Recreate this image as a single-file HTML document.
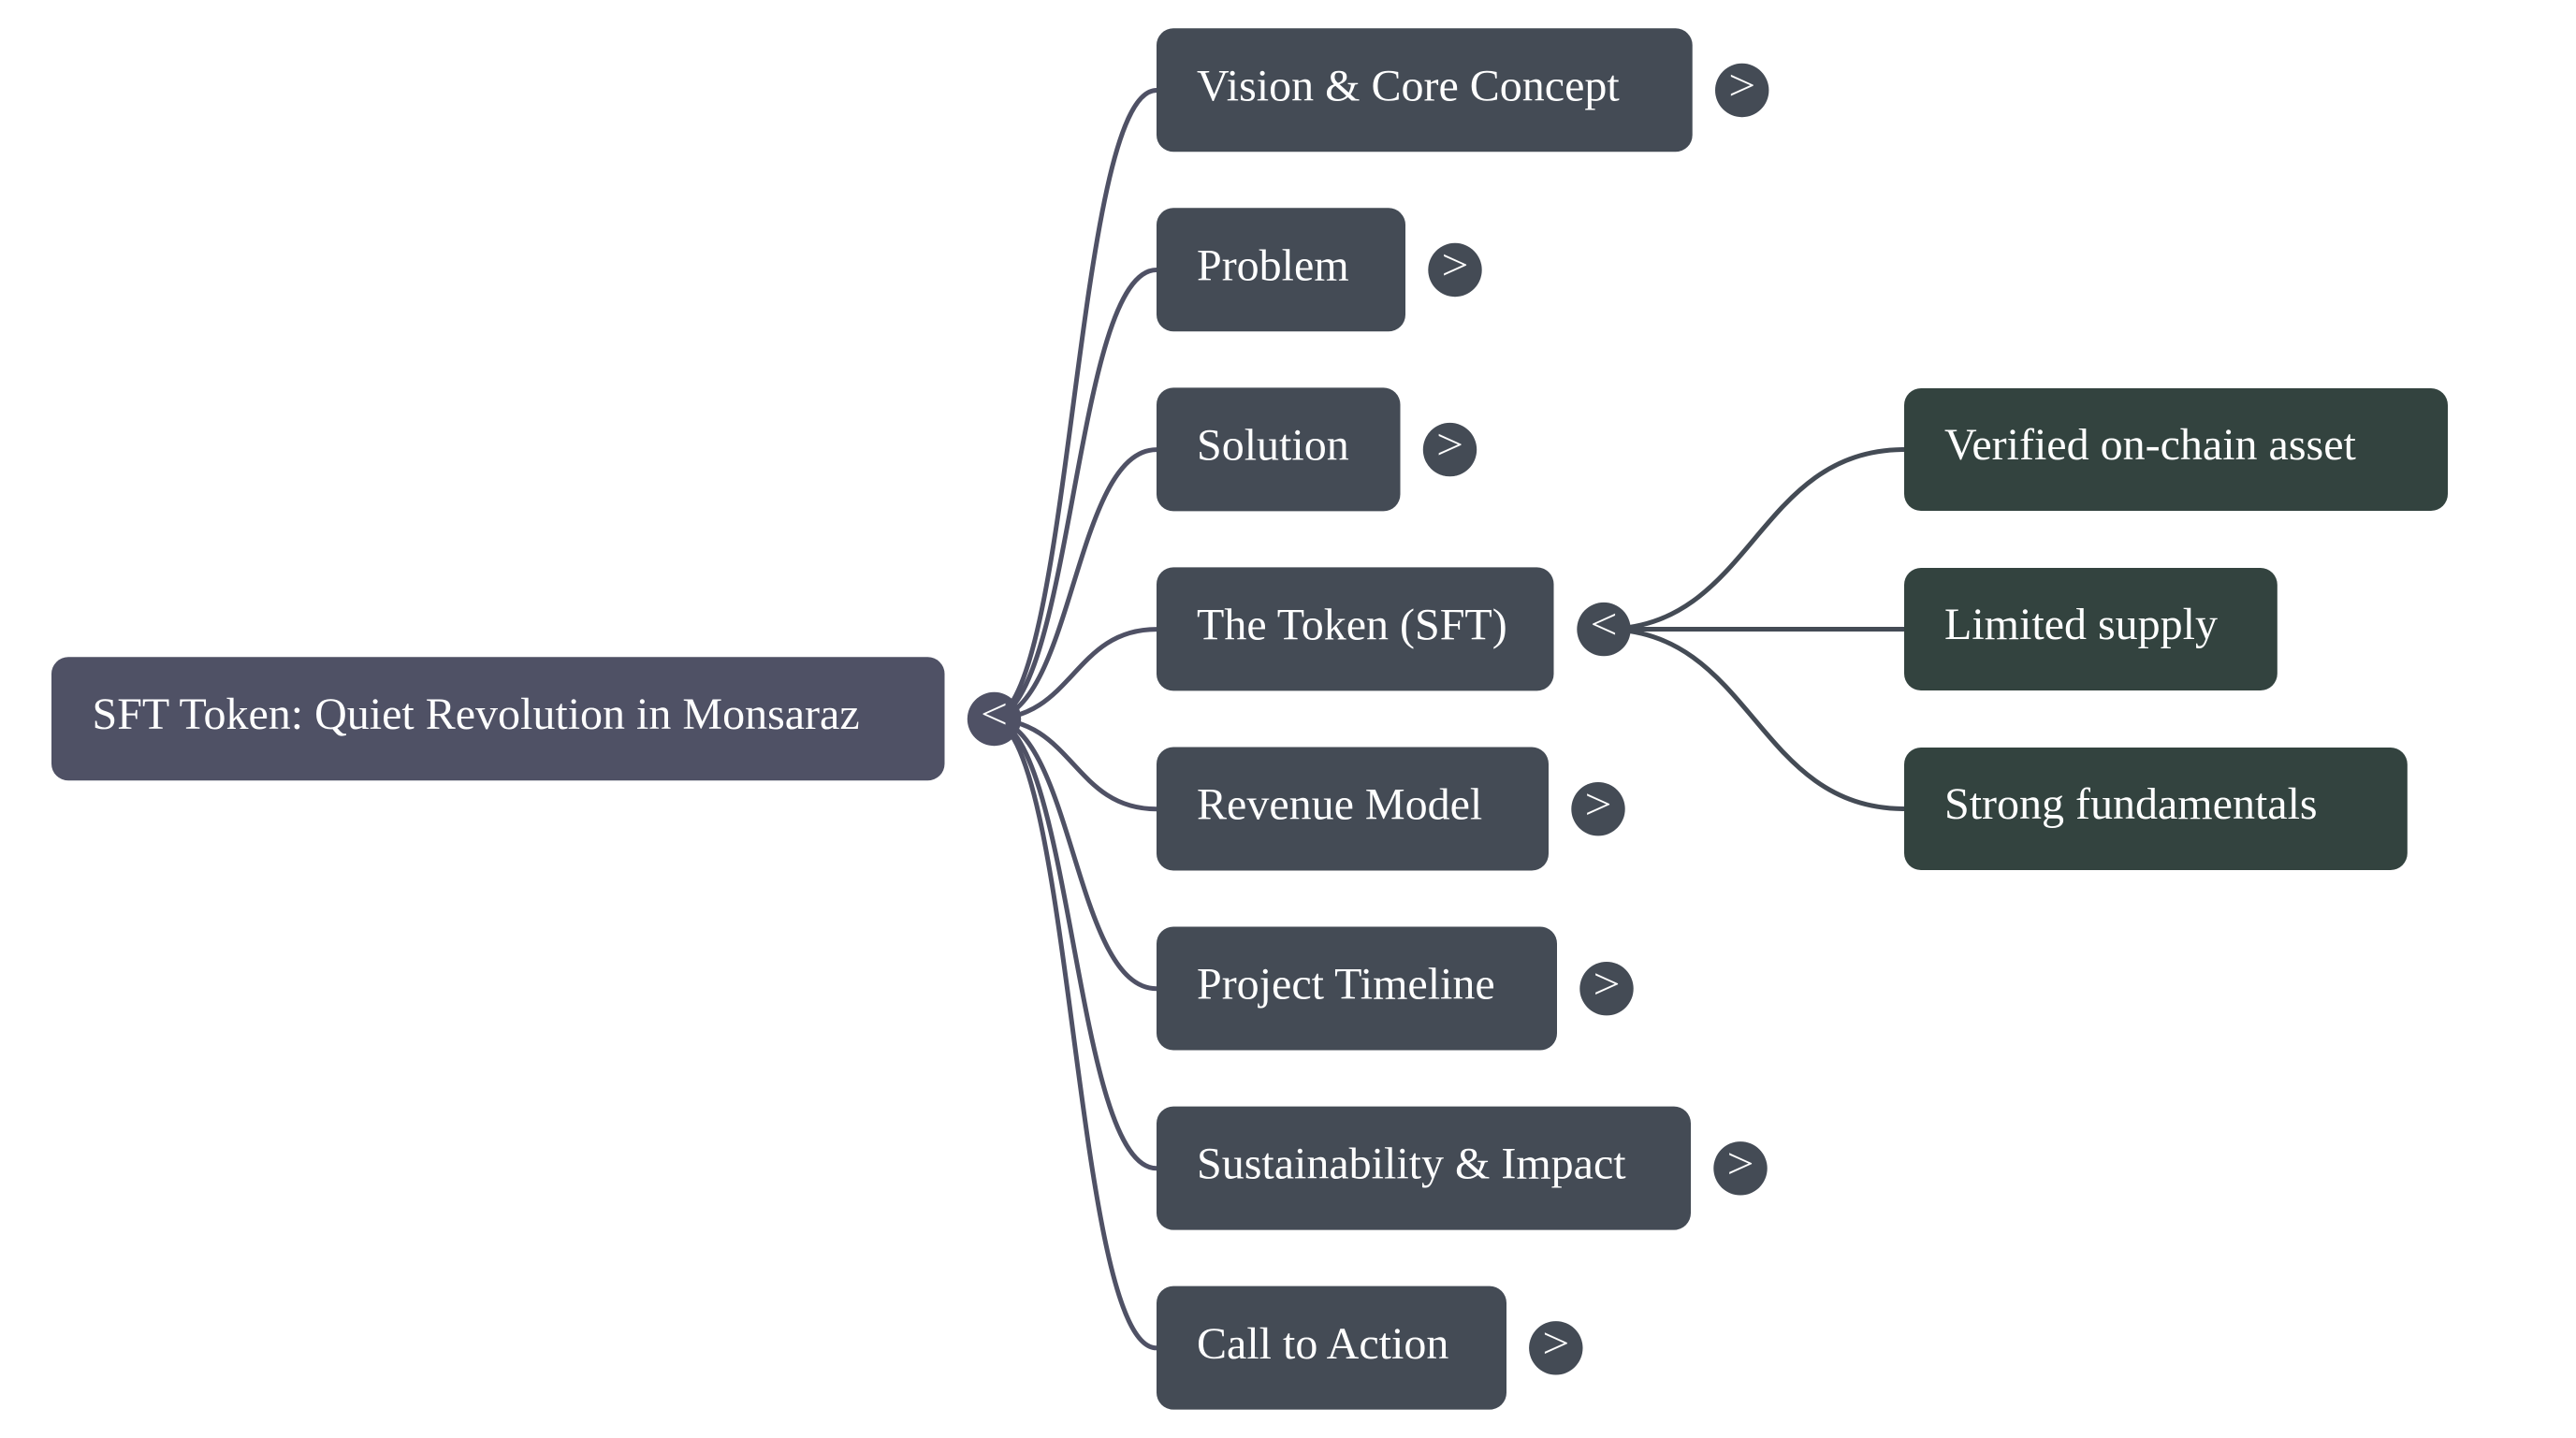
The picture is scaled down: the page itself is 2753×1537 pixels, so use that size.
<!DOCTYPE html>
<html><head><meta charset="utf-8"><style>
html,body{margin:0;padding:0;background:#fff;width:2753px;height:1537px;overflow:hidden}
svg{display:block}
text{font-family:"Liberation Serif",serif;font-size:48px;fill:#fff}
.c{text-anchor:middle;stroke:#444b55;stroke-width:.2px}
.r{text-anchor:middle;stroke:#4f5165;stroke-width:.2px}
</style></head><body>
<svg width="2753" height="1537" viewBox="0 0 2753 1537" xmlns="http://www.w3.org/2000/svg">
<g fill="none" stroke="#4f5165" stroke-width="5">
<path d="M1058 768.5C1147 768.5 1147 96.5 1236 96.5"/>
<path d="M1058 768.5C1147 768.5 1147 288.5 1236 288.5"/>
<path d="M1058 768.5C1147 768.5 1147 480.6 1236 480.6"/>
<path d="M1058 768.5C1147 768.5 1147 672.6 1236 672.6"/>
<path d="M1058 768.5C1147 768.5 1147 864.7 1236 864.7"/>
<path d="M1058 768.5C1147 768.5 1147 1056.7 1236 1056.7"/>
<path d="M1058 768.5C1147 768.5 1147 1248.8 1236 1248.8"/>
<path d="M1058 768.5C1147 768.5 1147 1440.8 1236 1440.8"/>
</g>
<g fill="none" stroke="#444b55" stroke-width="5">
<path d="M1714 672.5C1874.500 672.5 1874.500 480.5 2036 480.5"/>
<path d="M1714 672.5L2036 672.5"/>
<path d="M1714 672.5C1874.500 672.5 1874.500 864.5 2036 864.5"/>
</g>
<rect x="55" y="702.3" width="954.5" height="132" rx="18" fill="#4f5165"/>
<text x="98.500" y="779">SFT Token: Quiet Revolution in Monsaraz</text>
<circle cx="1062.5" cy="768.5" r="28.7" fill="#4f5165"/>
<text class="r" transform="translate(1062.5 779.1) scale(1.08 1)">&lt;</text>
<g fill="#444b55">
<rect x="1236" y="30.3" width="572.7" height="132" rx="18"/>
<rect x="1236" y="222.3" width="266" height="132" rx="18"/>
<rect x="1236" y="414.4" width="260.5" height="132" rx="18"/>
<rect x="1236" y="606.4" width="424.5" height="132" rx="18"/>
<rect x="1236" y="798.5" width="419" height="132" rx="18"/>
<rect x="1236" y="990.5" width="428" height="132" rx="18"/>
<rect x="1236" y="1182.6" width="571" height="132" rx="18"/>
<rect x="1236" y="1374.6" width="374" height="132" rx="18"/>
<circle cx="1861.7" cy="96.5" r="28.7"/>
<circle cx="1555" cy="288.5" r="28.7"/>
<circle cx="1549.5" cy="480.6" r="28.7"/>
<circle cx="1714" cy="672.6" r="28.7"/>
<circle cx="1708" cy="864.7" r="28.7"/>
<circle cx="1717" cy="1056.7" r="28.7"/>
<circle cx="1860" cy="1248.8" r="28.7"/>
<circle cx="1662.8" cy="1440.8" r="28.7"/>
</g>
<text x="1279" y="107.3">Vision &amp; Core Concept</text>
<text x="1279" y="299.3">Problem</text>
<text x="1279" y="491.4">Solution</text>
<text x="1279" y="683.4">The Token (SFT)</text>
<text x="1279" y="875.5">Revenue Model</text>
<text x="1279" y="1067.5">Project Timeline</text>
<text x="1279" y="1259.6">Sustainability &amp; Impact</text>
<text x="1279" y="1452">Call to Action</text>
<text class="c" transform="translate(1861.7 107.1) scale(1.08 1)">&gt;</text>
<text class="c" transform="translate(1555 299.1) scale(1.08 1)">&gt;</text>
<text class="c" transform="translate(1549.5 491.2) scale(1.08 1)">&gt;</text>
<text class="c" transform="translate(1714 683.2) scale(1.08 1)">&lt;</text>
<text class="c" transform="translate(1708 875.3) scale(1.08 1)">&gt;</text>
<text class="c" transform="translate(1717 1067.3) scale(1.08 1)">&gt;</text>
<text class="c" transform="translate(1860 1259.4) scale(1.08 1)">&gt;</text>
<text class="c" transform="translate(1662.8 1451.4) scale(1.08 1)">&gt;</text>
<g fill="#33433f">
<rect x="2035" y="415" width="581" height="131" rx="18"/>
<rect x="2035" y="607" width="398.8" height="131" rx="18"/>
<rect x="2035" y="799" width="537.8" height="131" rx="18"/>
</g>
<text x="2078" y="491">Verified on-chain asset</text>
<text x="2078" y="683">Limited supply</text>
<text x="2078" y="875">Strong fundamentals</text>
</svg>
</body></html>
